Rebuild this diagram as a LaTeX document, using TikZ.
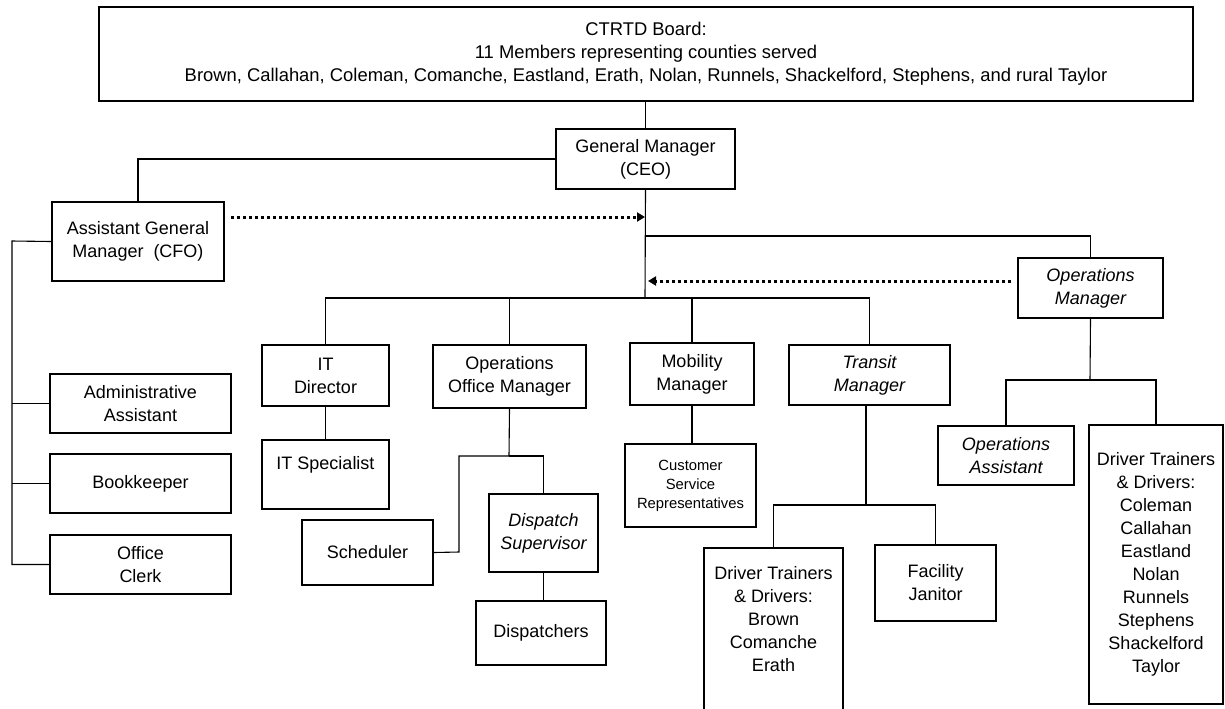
\documentclass[tikz,border=0pt]{standalone}
\usepackage{fontspec}
\setmainfont{Liberation Sans}
\usetikzlibrary{arrows.meta,positioning}

\begin{document}
\begin{tikzpicture}[x=0.5pt,y=-0.5pt,
  box/.style={draw,line width=0.75pt,inner sep=1pt,align=center,font=\fontsize{9}{11.5}\selectfont},
  small/.style={box,font=\fontsize{7.4}{9.5}\selectfont},
  link/.style={line width=0.55pt},
  dotarrow/.style={line width=1.5pt,dash pattern=on 1.4pt off 1.6pt,-{Triangle[length=4pt,width=4.5pt]}}]
\useasboundingbox (0,0) rectangle (1225,708);
\node[box,font=\fontsize{9.2}{11.5}\selectfont,minimum width=547pt,minimum height=47pt] (board) at (646,54) {CTRTD Board:\\11 Members representing counties served\\Brown, Callahan, Coleman, Comanche, Eastland, Erath, Nolan, Runnels, Shackelford, Stephens, and rural Taylor};
\node[box,minimum width=89.5pt,minimum height=30pt] (gm) at (645.5,159) {General Manager\\(CEO)};
\node[box,minimum width=86pt,minimum height=39.5pt] (agm) at (138,241.5) {Assistant General\\Manager\ \ (CFO)};
\node[box,minimum width=72.5pt,minimum height=30pt] (opsm) at (1090.5,288) {\itshape Operations\\\itshape Manager};
\node[box,minimum width=63.5pt,minimum height=30.5pt] (itd) at (325.5,375.5) {IT\\Director};
\node[box,minimum width=76.5pt,minimum height=31.5pt] (oom) at (509.5,376.5) {Operations\\Office Manager};
\node[box,minimum width=62pt,minimum height=31pt] (mob) at (692,374) {Mobility\\Manager};
\node[box,minimum width=80.5pt,minimum height=30pt] (trm) at (869.5,375) {\itshape Transit\\\itshape Manager};
\node[box,minimum width=63.5pt,minimum height=34.5pt] (its) at (325.5,474.5) {IT Specialist\\\mbox{}};
\node[box,minimum width=65.5pt,minimum height=32.5pt] (sch) at (367.5,552.5) {Scheduler};
\node[box,minimum width=54.5pt,minimum height=39pt] (dsp) at (543.5,533) {\itshape Dispatch\\\itshape Supervisor};
\node[box,minimum width=65pt,minimum height=32pt] (dis) at (541,633) {Dispatchers};
\node[small,minimum width=65.5pt,minimum height=41.5pt] (csr) at (690.5,485.5) {Customer\\Service\\Representatives};
\node[box,minimum width=69.5pt,minimum height=82pt] (drone) at (773.5,630) {Driver Trainers\\\& Drivers:\\Brown\\Comanche\\Erath\\\mbox{}};
\node[box,minimum width=60.5pt,minimum height=38pt] (fac) at (935.5,583) {Facility\\Janitor};
\node[box,minimum width=68pt,minimum height=29.5pt] (opa) at (1006,455.5) {\itshape Operations\\\itshape Assistant};
\node[box,minimum width=67pt,minimum height=139.5pt] (drtwo) at (1156,564.5) {Driver Trainers\\\& Drivers:\\Coleman\\Callahan\\Eastland\\Nolan\\Runnels\\Stephens\\Shackelford\\Taylor};
\node[box,minimum width=90.5pt,minimum height=29.5pt] (adm) at (140.5,403.5) {Administrative\\Assistant};
\node[box,minimum width=90.5pt,minimum height=29.5pt] (bkp) at (140.5,483.5) {Bookkeeper};
\node[box,minimum width=90.5pt,minimum height=29.5pt] (ocl) at (140.5,564.5) {Office\\Clerk};
\coordinate (cfoarr) at (645,217);
\coordinate (opsjoin) at (645,236);
\coordinate (opsarr) at (648,281);
\coordinate (hub) at (645,298);
\coordinate (ooj) at (509,456);
\coordinate (schj) at (459,552);
\coordinate (trj) at (866,505);
\coordinate (omj) at (1090,380);
\coordinate (cfol) at (12,241);
\draw[link] (gm.north) -- (gm.north |- board.south);
\draw[link] (gm.west) -| (agm.north);
\draw[link] (gm.south) -- (hub);
\draw[link] (opsjoin) -| (opsm.north);
\draw[dotarrow] ([xshift=3pt]agm.east |- cfoarr) -- (cfoarr);
\draw[dotarrow] ([xshift=-3pt]opsm.west |- opsarr) -- (opsarr);
\draw[link] (itd.north) |- (hub) -| (trm.north);
\draw[link] (oom.north) -- (oom.north |- hub);
\draw[link] (mob.north) -- (mob.north |- hub);
\draw[link] (itd.south) -- (its.north);
\draw[link] (oom.south) -- (ooj);
\draw[link] (ooj) -| (dsp.north);
\draw[link] (ooj) -| (schj) -- (sch.east);
\draw[link] (dsp.south) -- (dsp.south |- dis.north);
\draw[link] (mob.south) -- (mob.south |- csr.north);
\draw[link] (trj |- trm.south) -- (trj);
\draw[link] (drone.north) |- (trj) -| (fac.north);
\draw[link] (opsm.south) -- (omj);
\draw[link] (opa.north) |- (omj) -| (drtwo.north);
\draw[link] (agm.west) -- (cfol) -- (cfol |- ocl.west) -- (ocl.west);
\draw[link] (cfol |- adm.west) -- (adm.west);
\draw[link] (cfol |- bkp.west) -- (bkp.west);
\end{tikzpicture}
\end{document}
